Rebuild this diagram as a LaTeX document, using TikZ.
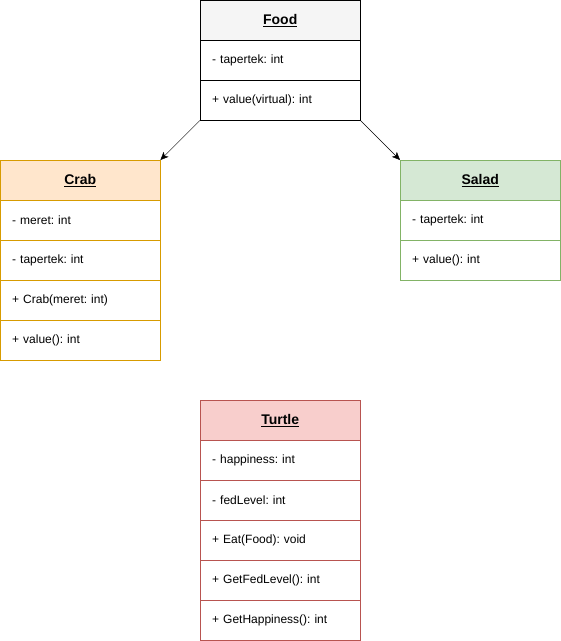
\documentclass[tikz,border=0pt]{standalone}
\usepackage{fontspec}
\setmainfont{Liberation Sans}
\usepackage{tikz}
\usetikzlibrary{arrows.meta,positioning}
\frenchspacing

\definecolor{foodfill}{HTML}{F5F5F5}
\definecolor{crabfill}{HTML}{FFE6CC}
\definecolor{crabline}{HTML}{D79B00}
\definecolor{saladfill}{HTML}{D5E8D4}
\definecolor{saladline}{HTML}{82B366}
\definecolor{turtlefill}{HTML}{F8CECC}
\definecolor{turtleline}{HTML}{B85450}

\begin{document}
\begin{tikzpicture}[
    x=1pt, y=-1pt,
    head/.style={rectangle, draw, thin, minimum width=160pt, minimum height=40pt,
                 inner sep=0pt, anchor=north west, font=\fontsize{14}{16}\selectfont\bfseries},
    row/.style={rectangle, draw, thin, fill=white, minimum width=160pt, minimum height=40pt,
                inner xsep=12pt, inner ysep=0pt, text width=136pt, align=left,
                anchor=north west, font=\fontsize{12}{14}\selectfont},
    arrow/.style={-{Stealth[length=8pt, width=7pt, inset=2pt]}, thin}
]
\useasboundingbox (0,0) rectangle (561,641);

% ================= FOOD =================
\node[head, fill=foodfill, draw=black] (FoodHead) at (200,0) {\underline{Food}};
\node[row, draw=black] (FoodAttr) at (200,40) {- tapertek: int};
\node[row, draw=black] (FoodOp) at (200,80) {+ value(virtual): int};

% ================= CRAB =================
\node[head, fill=crabfill, draw=crabline] (CrabHead) at (0,160) {\underline{Crab}};
\node[row, draw=crabline] (CrabMeret) at (0,200) {- meret: int};
\node[row, draw=crabline] (CrabTapertek) at (0,240) {- tapertek: int};
\node[row, draw=crabline] (CrabCtor) at (0,280) {+ Crab(meret: int)};
\node[row, draw=crabline] (CrabValue) at (0,320) {+ value(): int};

% ================= SALAD =================
\node[head, fill=saladfill, draw=saladline] (SaladHead) at (400,160) {\underline{Salad}};
\node[row, draw=saladline] (SaladTapertek) at (400,200) {- tapertek: int};
\node[row, draw=saladline] (SaladValue) at (400,240) {+ value(): int};

% ================= TURTLE =================
\node[head, fill=turtlefill, draw=turtleline] (TurtleHead) at (200,400) {\underline{Turtle}};
\node[row, draw=turtleline] (TurtleHappy) at (200,440) {- happiness: int};
\node[row, draw=turtleline] (TurtleFed) at (200,480) {- fedLevel: int};
\node[row, draw=turtleline] (TurtleEat) at (200,520) {+ Eat(Food): void};
\node[row, draw=turtleline] (TurtleGetFed) at (200,560) {+ GetFedLevel(): int};
\node[row, draw=turtleline] (TurtleGetHappy) at (200,600) {+ GetHappiness(): int};

% ================= DRAWING ARROWS =================
\draw[arrow] (FoodOp.south west) -- (CrabHead.north east);
\draw[arrow] (FoodOp.south east) -- (SaladHead.north west);

\end{tikzpicture}
\end{document}
